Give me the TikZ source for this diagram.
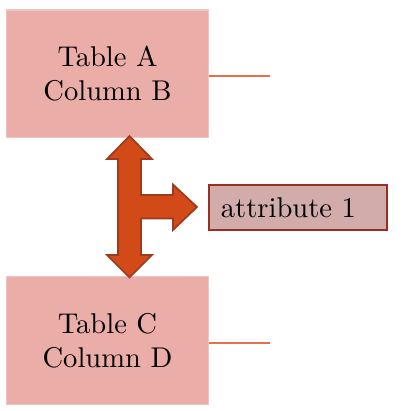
\documentclass[tikz,border=0pt]{standalone}
\usepackage{xcolor}
\definecolor{tabfill}{HTML}{EBADA8}
\definecolor{tabline}{HTML}{F2C4C0}
\definecolor{attrfill}{HTML}{D1ACAA}
\definecolor{attrline}{HTML}{983020}
\definecolor{linkline}{HTML}{E4704C}
\definecolor{arrfill}{HTML}{D24A17}
\definecolor{arrline}{HTML}{9E3A1E}

\begin{document}
\begin{tikzpicture}[x=0.35pt,y=-0.35pt]
	\tikzstyle{tabbox}=[draw=tabline,fill=tabfill,line width=0.4pt,minimum width=71pt,minimum height=44.6pt,align=center,inner sep=0pt]
	\tikzstyle{attrbox}=[draw=attrline,fill=attrfill,line width=0.4pt,minimum width=62.3pt,minimum height=15.75pt,text width=54pt,align=left,inner sep=0pt]
	\useasboundingbox (0,0) rectangle (403,411);
	\node [tabbox] (tabA) at (107.5,73.75) {Table A\\Column B};
	\node [tabbox] (tabC) at (107.5,340.5) {Table C\\Column D};
	\node [attrbox] (attr) at (298,207.5) {attribute 1};
	\coordinate (endA) at (270,76);
	\coordinate (endC) at (270,343);
	\draw [linkline,line width=0.5pt] (tabA.east |- endA) -- (endA);
	\draw [linkline,line width=0.5pt] (tabC.east |- endC) -- (endC);
	\filldraw [fill=arrfill,draw=arrline,line width=0.6pt,line join=miter]
		(129.5,136) -- (152,159) -- (141,159) -- (141,195) -- (173,195) -- (173,184.5)
		-- (197,207) -- (173,230) -- (173,218.5) -- (141,218.5) -- (141,255) -- (152,255)
		-- (129.5,277.5) -- (107,255) -- (118,255) -- (118,218.5) -- (118,159) -- (107,159) -- cycle;
\end{tikzpicture}
\end{document}
